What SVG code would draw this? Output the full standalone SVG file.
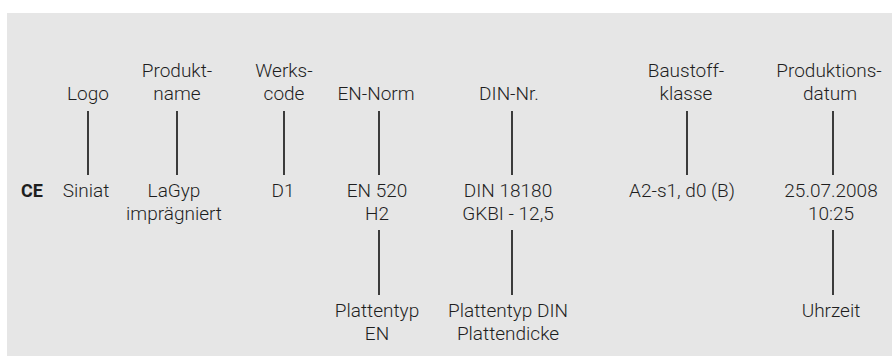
<svg xmlns="http://www.w3.org/2000/svg" width="892" height="363" viewBox="0 0 892 363">
<style>
text{font-family:Roboto,"Liberation Sans",sans-serif;font-size:19px;fill:#1e1e1e;text-anchor:middle;font-weight:300}
.b{font-weight:bold;font-size:18px}
.c line{stroke:#111;stroke-width:1.6}
</style>
<rect x="7" y="13" width="885" height="343" fill="#e6e6e6"/>
<g class="c" id="connectors">
<line x1="88" y1="111" x2="88" y2="175"/>
<line x1="177" y1="111" x2="177" y2="175"/>
<line x1="284" y1="111" x2="284" y2="175"/>
<line x1="379" y1="111" x2="379" y2="175"/>
<line x1="379" y1="230" x2="379" y2="295"/>
<line x1="512" y1="111" x2="512" y2="175"/>
<line x1="512" y1="230" x2="512" y2="295"/>
<line x1="687" y1="111" x2="687" y2="175"/>
<line x1="833" y1="111" x2="833" y2="175"/>
<line x1="833" y1="230" x2="833" y2="295"/>
</g>
<g id="ce"><text class="b" x="32" y="197">CE</text></g>
<g id="logo"><text x="88" y="100">Logo</text><text x="86" y="197">Siniat</text></g>
<g id="produktname"><text x="177" y="77">Produkt-</text><text x="177" y="100">name</text><text x="174" y="197">LaGyp</text><text x="174" y="220">imprägniert</text></g>
<g id="werkscode"><text x="284" y="77">Werks-</text><text x="284" y="100">code</text><text x="283" y="197">D1</text></g>
<g id="en-norm"><text x="376" y="100">EN-Norm</text><text x="377" y="197">EN 520</text><text x="377" y="220">H2</text><text x="377" y="317">Plattentyp</text><text x="377" y="340">EN</text></g>
<g id="din-nr"><text x="509" y="100">DIN-Nr.</text><text x="508" y="197">DIN 18180</text><text x="508" y="220">GKBI - 12,5</text><text x="508" y="317">Plattentyp DIN</text><text x="508" y="340">Plattendicke</text></g>
<g id="baustoffklasse"><text x="686" y="77">Baustoff-</text><text x="686" y="100">klasse</text><text x="682" y="197">A2-s1, d0 (B)</text></g>
<g id="produktionsdatum"><text x="829" y="77">Produktions-</text><text x="830" y="100">datum</text><text x="831" y="197">25.07.2008</text><text x="831" y="220">10:25</text><text x="831" y="317">Uhrzeit</text></g>
</svg>
